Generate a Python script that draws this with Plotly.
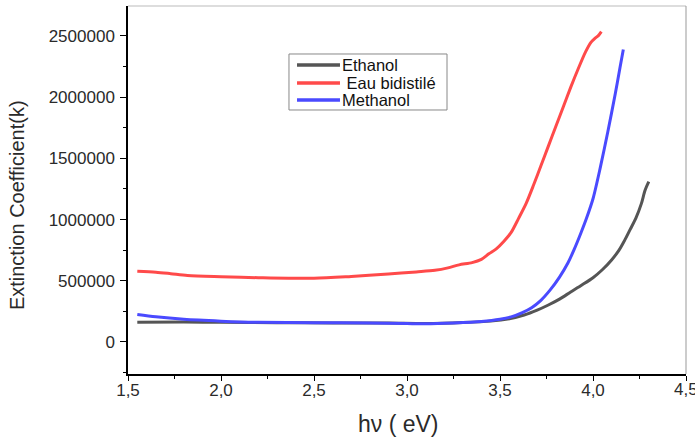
import plotly.graph_objects as go

# Photon energy (eV) and extinction coefficient for each solvent
ethanol_x = [1.55, 1.8, 2.0, 2.3, 2.6, 2.9, 3.1, 3.3, 3.45, 3.55, 3.63, 3.70, 3.76, 3.82,
             3.88, 3.94, 4.0, 4.05, 4.10, 4.14, 4.17, 4.20, 4.23, 4.26, 4.28, 4.30]
ethanol_k = [160000, 162000, 160000, 157000, 155000, 154000, 150000, 158000, 170000, 190000,
             220000, 260000, 302000, 350000, 408000, 465000, 525000, 590000, 670000, 750000,
             830000, 920000, 1010000, 1130000, 1240000, 1310000]

eau_x = [1.55, 1.65, 1.73, 1.82, 2.0, 2.2, 2.5, 2.7, 2.9, 3.05, 3.15, 3.22, 3.28, 3.35, 3.40,
         3.44, 3.48, 3.52, 3.56, 3.60, 3.64, 3.68, 3.72, 3.76, 3.80, 3.84, 3.88, 3.92, 3.96,
         3.99, 4.01, 4.03, 4.045]
eau_k = [578000, 570000, 558000, 543000, 533000, 525000, 520000, 535000, 555000, 572000,
         585000, 605000, 630000, 648000, 675000, 720000, 760000, 820000, 895000, 1010000,
         1130000, 1280000, 1440000, 1600000, 1760000, 1920000, 2080000, 2230000, 2370000,
         2450000, 2480000, 2505000, 2535000]

methanol_x = [1.55, 1.65, 1.8, 2.0, 2.2, 2.5, 2.8, 3.0, 3.1, 3.25, 3.4, 3.5, 3.56, 3.62, 3.67,
              3.72, 3.77, 3.82, 3.865, 3.90, 3.935, 3.965, 4.0, 4.04, 4.08, 4.12, 4.145, 4.163]
methanol_k = [225000, 205000, 185000, 170000, 160000, 157000, 155000, 150000, 148000, 155000,
              167000, 185000, 205000, 240000, 280000, 340000, 425000, 530000, 645000, 760000,
              890000, 1010000, 1170000, 1430000, 1720000, 2030000, 2240000, 2390000]

series_names = ["Ethanol", " Eau bidistilé", "Methanol"]
series_colors = ["#555555", "#ff4a4a", "#4a4aff"]

x_ticks = [1.5, 2.0, 2.5, 3.0, 3.5, 4.0, 4.5]
x_tick_labels = ["1,5", "2,0", "2,5", "3,0", "3,5", "4,0", "4,5"]
y_ticks = [0, 500000, 1000000, 1500000, 2000000, 2500000]
y_tick_labels = ["0", "500000", "1000000", "1500000", "2000000", "2500000"]

x_title = "hν ( eV)"
y_title = "Extinction Coefficient(k)"

FONT = "Liberation Sans, Arial, sans-serif"
TEXT_COLOR = "#2a2a2a"

fig = go.Figure()
for xs, ks, name, color in zip([ethanol_x, eau_x, methanol_x],
                               [ethanol_k, eau_k, methanol_k],
                               series_names, series_colors):
    fig.add_trace(go.Scatter(x=xs, y=ks, mode="lines", name=name, showlegend=False,
                             line=dict(color=color, width=3, shape="spline", smoothing=0.8)))

fig.update_layout(
    width=695, height=441,
    margin=dict(l=128, r=9, t=6, b=67),
    paper_bgcolor="white", plot_bgcolor="white",
    font=dict(family=FONT, size=17, color=TEXT_COLOR),
    showlegend=False,
    xaxis=dict(range=[1.5, 4.5], tickvals=x_ticks, ticktext=x_tick_labels,
               showgrid=False, zeroline=False, showline=True, linecolor="black", linewidth=1.5,
               ticks="outside", ticklen=5, tickwidth=1.2, tickcolor="black",
               ticklabelstandoff=-5,
               minor=dict(ticks="outside", ticklen=3, dtick=0.25, tickcolor="black", showgrid=False)),
    yaxis=dict(range=[-262000, 2745000], tickvals=y_ticks, ticktext=y_tick_labels,
               showgrid=False, zeroline=False, showline=True, linecolor="black", linewidth=1.5,
               ticks="outside", ticklen=6, tickwidth=1.2, tickcolor="black",
               ticklabelstandoff=2,
               minor=dict(ticks="outside", ticklen=3, dtick=250000, tickcolor="black", showgrid=False)),
)

# axis titles
fig.add_annotation(x=0.4839, y=-0.1359, xref="paper", yref="paper", xanchor="center",
                   yanchor="middle", text=x_title, showarrow=False,
                   font=dict(family=FONT, size=23, color=TEXT_COLOR))
fig.add_annotation(x=-0.1989, y=0.459, xref="paper", yref="paper", xanchor="center",
                   yanchor="middle", text=y_title, textangle=-90, showarrow=False,
                   font=dict(family=FONT, size=20, color=TEXT_COLOR))

# the last x tick label sits on the page edge and is cut by it
fig.add_annotation(x=x_ticks[-1], y=0, xref="x", yref="paper", yanchor="top", yshift=-4,
                   text=x_tick_labels[-1], showarrow=False,
                   font=dict(family=FONT, size=17, color=TEXT_COLOR))

# light frame on the top and right sides of the plotting area
fig.add_shape(type="line", xref="paper", yref="paper", x0=0, x1=1, y0=1, y1=1,
              line=dict(color="#bbbbbb", width=1))
fig.add_shape(type="line", xref="paper", yref="paper", x0=1, x1=1, y0=0, y1=1,
              line=dict(color="#999999", width=1))

# boxed legend inside the plot
fig.add_shape(type="rect", xref="paper", yref="paper", x0=0.2885, x1=0.5717, y0=0.7174, y1=0.8696,
              line=dict(color="#888888", width=1), fillcolor="white")
legend_rows = [0.8397, 0.7908, 0.7446]
for row_y, name, color in zip(legend_rows, series_names, series_colors):
    fig.add_shape(type="line", xref="paper", yref="paper", x0=0.3029, x1=0.3799, y0=row_y, y1=row_y,
                  line=dict(color=color, width=3.5))
    fig.add_annotation(x=0.3799, y=row_y, xref="paper", yref="paper", xanchor="left",
                       yanchor="middle", text=name.replace(" ", "&nbsp;"), showarrow=False,
                       font=dict(family=FONT, size=16.5, color="#111111"))

fig.write_html("out.html")
